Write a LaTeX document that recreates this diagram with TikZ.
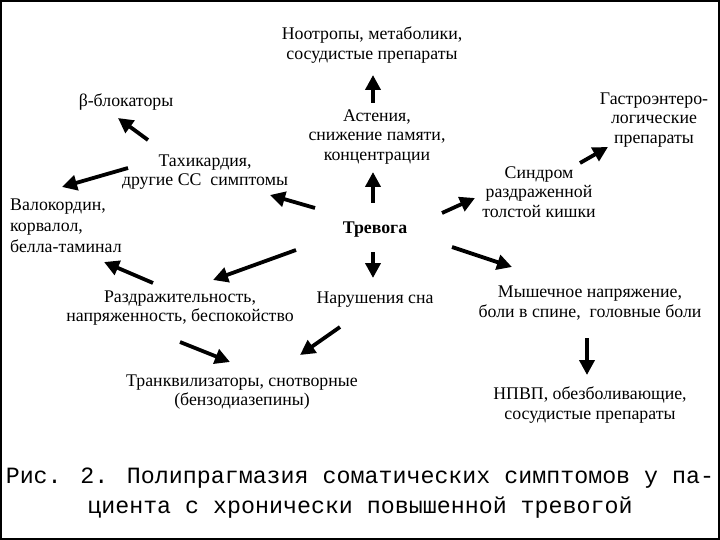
\documentclass[tikz,border=0pt]{standalone}
\usepackage{fontspec}
\setmainfont{Liberation Serif}
\newfontfamily\capfont{Liberation Mono}
\usetikzlibrary{arrows.meta,calc}

\tikzset{
  lbl/.style={inner sep=0pt, align=center, font=\fontsize{17.8}{19.5}\selectfont},
  arr/.style={line width=3.8pt, -{Triangle[length=15pt,width=15pt]}},
}

\begin{document}
\begin{tikzpicture}[x=1pt,y=-1pt]
	\useasboundingbox (0,0) rectangle (720,540);
	\draw[line width=2pt] (1,1) rectangle (719,539);

	% centre and upper chain
	\node[lbl, font=\fontsize{17.8}{19.5}\selectfont\bfseries] (trev) at (375,230) {Тревога};
	\node[lbl] (aste) at (377,137) {Астения,\\снижение памяти,\\концентрации};
	\node[lbl] (noot) at (372,45) {Ноотропы, метаболики,\\сосудистые препараты};
	\node[lbl] (sleep) at (375,300) {Нарушения сна};

	% left side
	\node[lbl] (beta) at (126,102) {β-блокаторы};
	\node[lbl] (tachy) at (205,172) {Тахикардия,\\другие СС\ \ симптомы};
	\node[lbl, align=left, anchor=west, font=\fontsize{17.8}{21}\selectfont] (valo) at (10,226) {Валокордин,\\корвалол,\\белла-таминал};
	\node[lbl] (razdr) at (180,308) {Раздражительность,\\напряженность, беспокойство};
	\node[lbl] (tranq) at (242,392) {Транквилизаторы, снотворные\\(бензодиазепины)};

	% right side
	\node[lbl] (synd) at (539,192) {Синдром\\раздраженной\\толстой кишки};
	\node[lbl] (gastro) at (654,120) {Гастроэнтеро-\\логические\\препараты};
	\node[lbl] (musc) at (590,303) {Мышечное напряжение,\\боли в спине,\ \ головные боли};
	\node[lbl] (nsaid) at (590,405) {НПВП, обезболивающие,\\сосудистые препараты};

	\node[inner sep=0pt, align=center, font=\capfont\fontsize{23.3}{30}\selectfont] (capt) at (360,493)
		{Рис. 2. Полипрагмазия соматических симптомов у па-\\циента с хронически повышенной тревогой};

	% arrows
	\draw[arr] ($(aste)+(-4,-34)$) -- ($(noot)+(1,30)$);
	\draw[arr] ($(trev)+(-2,-27)$) -- ($(aste)+(-4,35)$);
	\draw[arr] ($(trev)+(-2,22)$) -- ($(sleep)+(-2,-22)$);
	\draw[arr] ($(tachy)+(-57,-32)$) -- ($(beta)+(-8,16)$);
	\draw[arr] ($(tachy)+(-77,-4)$) -- ($(valo.west)+(52,-39)$);
	\draw[arr] ($(trev)+(-60,-22)$) -- ($(tachy)+(65,23)$);
	\draw[arr] ($(trev)+(-79,20)$) -- ($(razdr)+(33,-28)$);
	\draw[arr] ($(razdr)+(-27,-25)$) -- ($(valo.west)+(94,36)$);
	\draw[arr] ($(razdr)+(0,34)$) -- ($(tranq)+(-12,-30)$);
	\draw[arr] ($(sleep)+(-35,27)$) -- ($(tranq)+(58,-37)$);
	\draw[arr] ($(trev)+(67,-17)$) -- ($(synd)+(-64,6)$);
	\draw[arr] ($(synd)+(41,-29)$) -- ($(gastro)+(-46,27)$);
	\draw[arr] ($(trev)+(77,17)$) -- ($(musc)+(-78,-36)$);
	\draw[arr] ($(musc)+(-3,35)$) -- ($(nsaid)+(-3,-30)$);
\end{tikzpicture}
\end{document}
